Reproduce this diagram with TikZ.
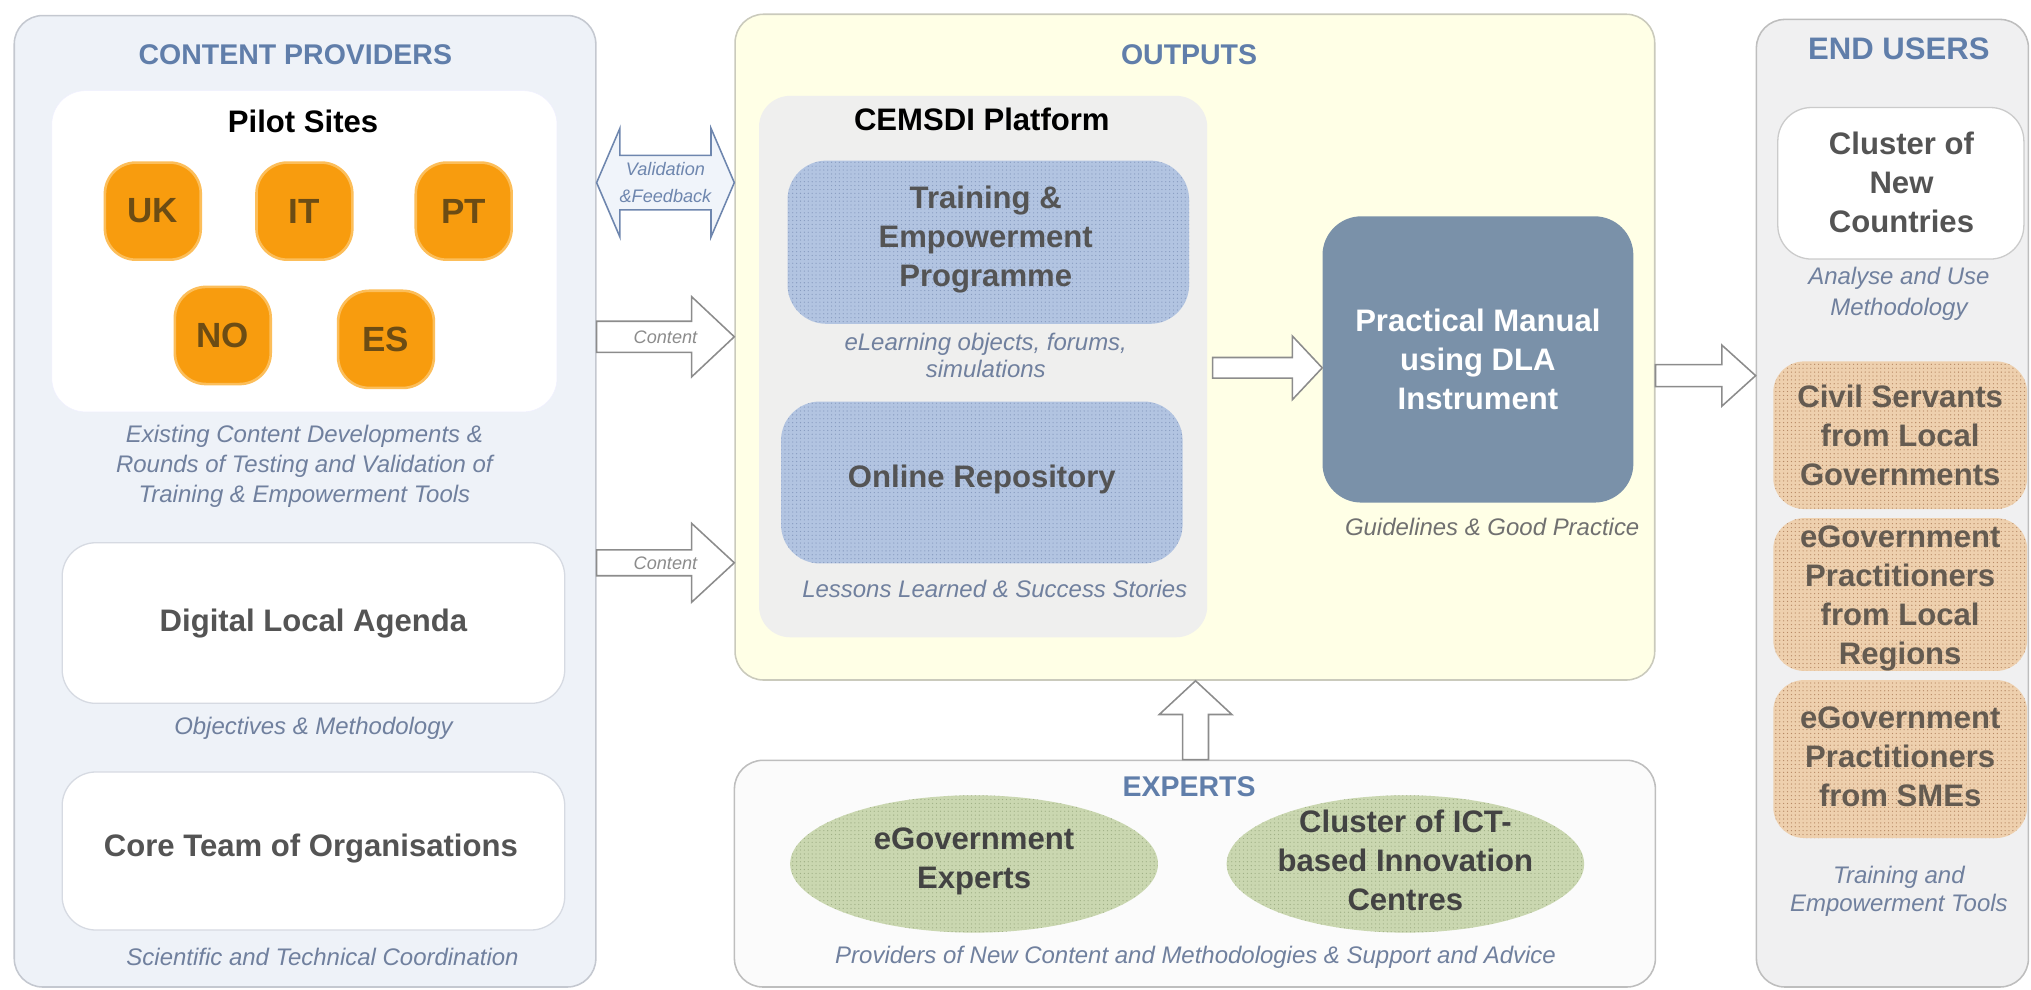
\documentclass[tikz,border=0pt]{standalone}
\usepackage{fontspec}
\setmainfont{Liberation Sans}
\usetikzlibrary{calc,patterns,shapes.geometric}

\definecolor{titleblue}{RGB}{96,126,170}
\definecolor{capblue}{RGB}{112,128,158}
\definecolor{capgray}{RGB}{112,112,112}
\definecolor{cpfill}{RGB}{238,242,248}
\definecolor{cpline}{RGB}{196,200,208}
\definecolor{outfill}{RGB}{255,255,230}
\definecolor{outdraw}{RGB}{202,202,188}
\definecolor{eufill}{RGB}{240,240,241}
\definecolor{grayline}{RGB}{190,190,190}
\definecolor{boxline}{RGB}{214,218,226}
\definecolor{platfill}{RGB}{239,239,238}
\definecolor{siteorange}{RGB}{248,156,14}
\definecolor{siteglow}{RGB}{252,190,90}
\definecolor{sitetext}{RGB}{108,76,20}
\definecolor{progfill}{RGB}{178,196,225}
\definecolor{progdots}{RGB}{136,156,192}
\definecolor{manualfill}{RGB}{122,145,169}
\definecolor{expfill}{RGB}{202,215,176}
\definecolor{expdots}{RGB}{160,176,134}
\definecolor{userfill}{RGB}{238,208,174}
\definecolor{userdots}{RGB}{182,136,100}
\definecolor{labeltext}{RGB}{84,84,84}
\definecolor{arrowline}{RGB}{140,140,140}
\definecolor{feedfill}{RGB}{240,244,250}
\definecolor{feedline}{RGB}{110,134,174}

\newcommand{\titlesize}{\fontsize{22}{26}\selectfont\bfseries}
\newcommand{\labelsize}{\fontsize{24}{30}\selectfont\bfseries}
\newcommand{\capsize}{\fontsize{18.5}{23}\selectfont\itshape}
\newcommand{\arrowsize}{\fontsize{14}{21}\selectfont\itshape}

\tikzset{
  panel/.style={rounded corners=22pt, line width=1.2pt, inner sep=0pt},
  paneltitle/.style={text=titleblue, font=\titlesize},
  boxtext/.style={text=labeltext, font=\labelsize, align=center, inner sep=0pt},
  captext/.style={text=capblue, font=\capsize, align=center},
  site/.style={fill=siteorange, draw=siteglow, line width=2pt, rounded corners=24pt,
    minimum width=74pt, minimum height=75pt, text=sitetext,
    font=\fontsize{27}{30}\selectfont\bfseries},
  dotfill/.style 2 args={fill=#1, postaction={pattern=dots, pattern color=#2}},
  fatarrow/.style={fill=white, draw=arrowline, line width=1.2pt, line join=miter},
}

% block arrow to the right: tail, tip, shaft half, head half, head length
\newcommand{\fatarrow}[6][]{%
  \draw[fatarrow,#1] let \p1=(#2), \p2=(#3) in
    (\x1,\y1+#4) -- (\x2-#6,\y2+#4) -- (\x2-#6,\y2+#5) -- (\x2,\y2)
    -- (\x2-#6,\y2-#5) -- (\x2-#6,\y2-#4) -- (\x1,\y1-#4) -- cycle;}
% block arrow upwards
\newcommand{\fatarrowup}[5]{%
  \draw[fatarrow] let \p1=(#1), \p2=(#2) in
    (\x1+#3,\y1) -- (\x2+#3,\y2-#5) -- (\x2+#4,\y2-#5) -- (\x2,\y2)
    -- (\x2-#4,\y2-#5) -- (\x2-#3,\y2-#5) -- (\x1-#3,\y1) -- cycle;}
% block arrow with two heads
\newcommand{\dblarrow}[5]{%
  \draw[fatarrow, fill=feedfill, draw=feedline] let \p1=(#1), \p2=(#2) in
    (\x1,\y1) -- (\x1+#5,\y1+#4) -- (\x1+#5,\y1+#3) -- (\x2-#5,\y2+#3)
    -- (\x2-#5,\y2+#4) -- (\x2,\y2) -- (\x2-#5,\y2-#4) -- (\x2-#5,\y2-#3)
    -- (\x1+#5,\y1-#3) -- (\x1+#5,\y1-#4) -- cycle;}

\begin{document}
\begin{tikzpicture}[x=1pt, y=-1pt]
  \useasboundingbox (0,0) rectangle (1568,764.3);

  % the four panels
  \node[panel, fill=cpfill, draw=cpline, minimum width=449pt, minimum height=750pt] (cp) at (235.5,387) {};
  \node[panel, fill=outfill, draw=outdraw, minimum width=710pt, minimum height=514pt] (outputs) at (922.5,268) {};
  \node[panel, fill=white!97!gray, draw=grayline, minimum width=711pt, minimum height=175pt] (experts) at (922.5,674.5) {};
  \node[panel, fill=eufill, draw=grayline, minimum width=210pt, minimum height=747pt] (endusers) at (1461,388.5) {};

  \node[paneltitle] (cptitle) at (228,42) {CONTENT PROVIDERS};
  \node[paneltitle] (outtitle) at (918,42) {OUTPUTS};
  \node[paneltitle] (exptitle) at (918,607) {EXPERTS};
  \node[paneltitle, font=\fontsize{24}{28}\selectfont\bfseries] (eutitle) at (1466,38) {END USERS};

  % content providers
  \node[fill=white, draw=white!94!blue, rounded corners=26pt, minimum width=390pt, minimum height=248pt] (pilot) at (235,194) {};
  \node[font=\fontsize{24}{28}\selectfont\bfseries] (pilottitle) at (234,94) {Pilot Sites};
  \node[site] (uk) at (118,163) {UK};
  \node[site] (it) at (235,163) {IT};
  \node[site] (pt) at (358,163) {PT};
  \node[site] (no) at (172,259) {NO};
  \node[site] (es) at (298,262) {ES};
  \node[captext] (pilotcap) at (235,360) {Existing Content Developments \&\\Rounds of Testing and Validation of\\Training \& Empowerment Tools};

  \node[fill=white, draw=boxline, line width=1pt, rounded corners=26pt, minimum width=388pt, minimum height=124pt] (dla) at (242,481) {};
  \node[boxtext] (dlatext) at (dla) {Digital Local Agenda};
  \node[captext] (dlacap) at (242,562) {Objectives \& Methodology};
  \node[fill=white, draw=boxline, line width=1pt, rounded corners=26pt, minimum width=388pt, minimum height=122pt] (core) at (242,657) {};
  \node[boxtext] (coretext) at (240,655) {Core Team of Organisations};
  \node[captext] (corecap) at (249,739) {Scientific and Technical Coordination};

  % outputs
  \node[fill=platfill, rounded corners=24pt, minimum width=346pt, minimum height=418pt] (cemsdi) at (759,283) {};
  \node[font=\fontsize{24}{28}\selectfont\bfseries] (cemsditext) at (758,92) {CEMSDI Platform};
  \node[dotfill={progfill}{progdots}, rounded corners=30pt, minimum width=310pt, minimum height=126pt] (tep) at (763,187) {};
  \node[boxtext] (teptext) at (761,185) {Training \&\\Empowerment\\Programme};
  \node[captext, font=\fontsize{18.5}{21}\selectfont\itshape] (tepcap) at (761,274.5) {eLearning objects, forums,\\simulations};
  \node[dotfill={progfill}{progdots}, rounded corners=30pt, minimum width=310pt, minimum height=125pt] (repo) at (758,372.5) {};
  \node[boxtext] (repotext) at (758,370) {Online Repository};
  \node[captext] (repocap) at (768,455) {Lessons Learned \& Success Stories};

  \node[fill=manualfill, rounded corners=30pt, minimum width=240pt, minimum height=221pt] (manual) at (1141,277.5) {};
  \node[boxtext, text=white] (manualtext) at (manual) {Practical Manual\\using DLA\\Instrument};
  \node[captext, text=capgray] (manualcap) at (1152,407) {Guidelines \& Good Practice};

  % experts
  \node[ellipse, dotfill={expfill}{expdots}, minimum width=284pt, minimum height=106pt, inner sep=0pt] (egovexp) at (752,667) {};
  \node[boxtext, text=labeltext!80!black] (egovtext) at (752,665) {eGovernment\\Experts};
  \node[ellipse, dotfill={expfill}{expdots}, minimum width=276pt, minimum height=106pt, inner sep=0pt] (ictc) at (1085,667) {};
  \node[boxtext, text=labeltext!80!black] (ictctext) at (1085,664) {Cluster of ICT-\\based Innovation\\Centres};
  \node[captext] (expcap) at (923,739) {Providers of New Content and Methodologies \& Support and Advice};

  % end users
  \node[fill=white, draw=grayline!80, line width=1pt, rounded corners=26pt, minimum width=190pt, minimum height=117pt] (cluster) at (1467.5,141.5) {};
  \node[boxtext] (clustertext) at (1468,141) {Cluster of\\New\\Countries};
  \node[captext, font=\fontsize{18.5}{24}\selectfont\itshape] (clustercap) at (1466,227) {Analyse and Use\\Methodology};
  \node[dotfill={userfill}{userdots}, rounded corners=24pt, minimum width=196pt, minimum height=114pt] (civil) at (1467,336) {};
  \node[boxtext, text=labeltext!85!brown] (civiltext) at (civil) {Civil Servants\\from Local\\Governments};
  \node[dotfill={userfill}{userdots}, rounded corners=24pt, minimum width=196pt, minimum height=118pt] (practloc) at (1467,459) {};
  \node[boxtext, text=labeltext!85!brown] (practloctext) at (1467,462) {eGovernment\\Practitioners\\from Local\\Regions};
  \node[dotfill={userfill}{userdots}, rounded corners=24pt, minimum width=196pt, minimum height=122pt] (practsme) at (1467,586) {};
  \node[boxtext, text=labeltext!85!brown] (practsmetext) at (1467,584) {eGovernment\\Practitioners\\from SMEs};
  \node[captext, font=\fontsize{18.5}{22}\selectfont\itshape] (eucap) at (1466,688) {Training and\\Empowerment Tools};

  % block arrows
  \coordinate (fbtail) at (cp.east |- 0,141);
  \coordinate (fbtip) at (outputs.west |- 0,141);
  \dblarrow{fbtail}{fbtip}{21pt}{42pt}{18pt}
  \node[font=\arrowsize, text=feedline, align=center] (fbtext) at ($(fbtail)!.5!(fbtip)$) {Validation\\\&Feedback};

  \coordinate (ctatail) at (cp.east |- 0,260);
  \coordinate (ctatip) at (outputs.west |- 0,260);
  \fatarrow{ctatail}{ctatip}{12pt}{31pt}{33pt}
  \node[font=\arrowsize, text=arrowline] (ctatext) at ($(ctatail)!.5!(ctatip)$) {Content};

  \coordinate (ctbtail) at (cp.east |- 0,434.5);
  \coordinate (ctbtip) at (outputs.west |- 0,434.5);
  \fatarrow{ctbtail}{ctbtip}{10pt}{30.5pt}{33pt}
  \node[font=\arrowsize, text=arrowline] (ctbtext) at ($(ctbtail)!.5!(ctbtip)$) {Content};

  \coordinate (mantail) at ([xshift=4pt]cemsdi.east |- 0,284);
  \coordinate (mantip) at (manual.west |- 0,284);
  \fatarrow{mantail}{mantip}{8pt}{24.5pt}{23pt}

  \coordinate (eutail) at (outputs.east |- 0,290);
  \coordinate (eutip) at (endusers.west |- 0,290);
  \fatarrow{eutail}{eutip}{8.5pt}{23.5pt}{26pt}

  \coordinate (exptail) at (experts.north -| 923,0);
  \coordinate (exptip) at (outputs.south -| 923,0);
  \fatarrowup{exptail}{exptip}{10pt}{28pt}{26pt}
\end{tikzpicture}
\end{document}
